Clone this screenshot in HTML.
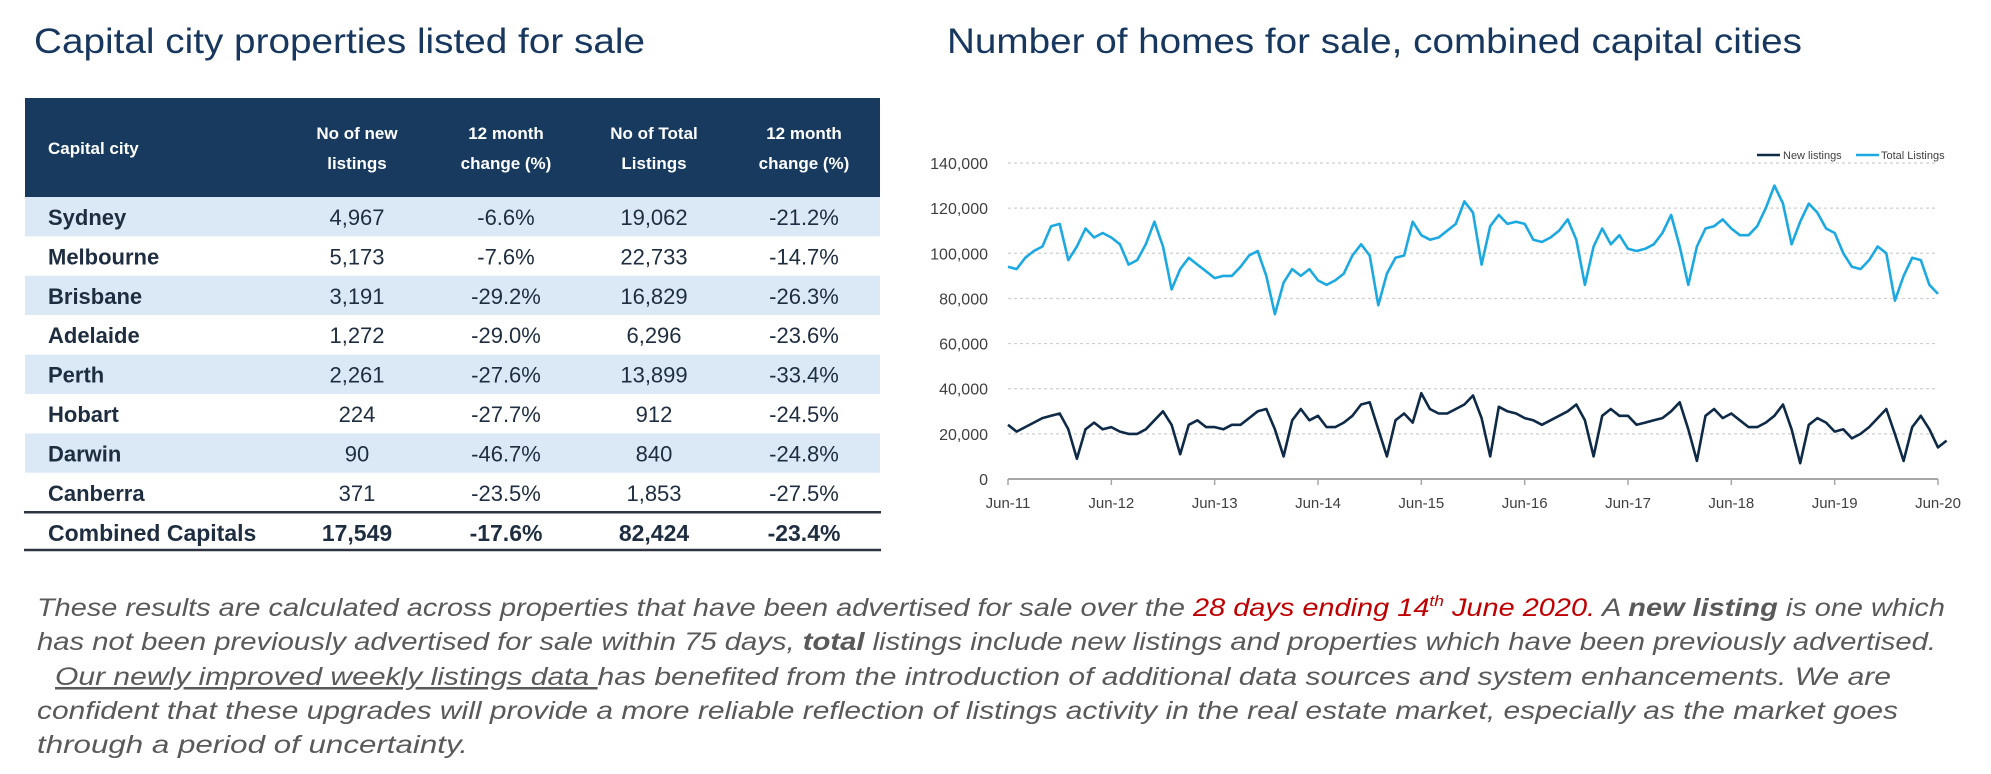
<!DOCTYPE html>
<html><head><meta charset="utf-8"><style>
html,body{margin:0;padding:0;background:#fff;}
svg{display:block;font-family:"Liberation Sans",sans-serif;}
</style></head><body>
<svg id="page" width="1991" height="774" viewBox="0 0 1991 774" xmlns="http://www.w3.org/2000/svg">
<text x="34" y="53" font-size="35" fill="#17375e" textLength="611" lengthAdjust="spacingAndGlyphs">Capital city properties listed for sale</text>
<text x="947" y="53" font-size="35" fill="#17375e" textLength="855" lengthAdjust="spacingAndGlyphs">Number of homes for sale, combined capital cities</text>
<g id="table"></g>
<g id="chart"></g>
<g font-style="italic" font-size="25" fill="#595959">
<text x="37" y="616" textLength="1908" lengthAdjust="spacingAndGlyphs">These results are calculated across properties that have been advertised for sale over the <tspan fill="#c00000">28 days ending 14<tspan font-size="15" dy="-10">th</tspan><tspan dy="10"> June 2020.</tspan></tspan>  A <tspan font-weight="bold">new listing</tspan> is one which</text>
<text x="37" y="650" textLength="1899" lengthAdjust="spacingAndGlyphs">has not been previously advertised for sale within 75 days, <tspan font-weight="bold">total</tspan> listings include new listings and properties which have been previously advertised.</text>
<text x="55" y="685" textLength="1836" lengthAdjust="spacingAndGlyphs"><tspan text-decoration="underline">Our newly improved weekly listings data </tspan>has benefited from the introduction of additional data sources and system enhancements. We are</text>
<text x="37" y="719" textLength="1861" lengthAdjust="spacingAndGlyphs">confident that these upgrades will provide a more reliable reflection of listings activity in the real estate market, especially as the market goes</text>
<text x="37" y="753" textLength="431" lengthAdjust="spacingAndGlyphs">through a period of uncertainty.</text>
</g>
</svg>
<script>
const cities=["Sydney","Melbourne","Brisbane","Adelaide","Perth","Hobart","Darwin","Canberra"];
const newListings=["4,967","5,173","3,191","1,272","2,261","224","90","371"];
const newChange=["-6.6%","-7.6%","-29.2%","-29.0%","-27.6%","-27.7%","-46.7%","-23.5%"];
const totalListings=["19,062","22,733","16,829","6,296","13,899","912","840","1,853"];
const totalChange=["-21.2%","-14.7%","-26.3%","-23.6%","-33.4%","-24.5%","-24.8%","-27.5%"];
const combinedRow=["Combined Capitals","17,549","-17.6%","82,424","-23.4%"];
const xLabels=["Jun-11","Jun-12","Jun-13","Jun-14","Jun-15","Jun-16","Jun-17","Jun-18","Jun-19","Jun-20"];
const yTicks=[0,20000,40000,60000,80000,100000,120000,140000];
const totalSeries=[94,93,98,101,103,112,113,97,103,111,107,109,107,104,95,97,104,114,103,84,93,98,95,92,89,90,90,94,99,101,90,73,87,93,90,93,88,86,88,91,99,104,99,77,91,98,99,114,108,106,107,110,113,123,118,95,112,117,113,114,113,106,105,107,110,115,106,86,103,111,104,108,102,101,102,104,109,117,103,86,103,111,112,115,111,108,108,112,120,130,122,104,114,122,118,111,109,100,94,93,97,103,100,79,90,98,97,86,82];
const newSeries=[24,21,23,25,27,28,29,22,9,22,25,22,23,21,20,20,22,26,30,24,11,24,26,23,23,22,24,24,27,30,31,22,10,26,31,26,28,23,23,25,28,33,34,22,10,26,29,25,38,31,29,29,31,33,37,27,10,32,30,29,27,26,24,26,28,30,33,26,10,28,31,28,28,24,25,26,27,30,34,22,8,28,31,27,29,26,23,23,25,28,33,22,7,24,27,25,21,22,18,20,23,27,31,20,8,23,28,22,14,17];
const NS="http://www.w3.org/2000/svg";
function mk(tag,attrs,parent,text){const e=document.createElementNS(NS,tag);for(const k in attrs)e.setAttribute(k,attrs[k]);if(text!==undefined)e.textContent=text;parent.appendChild(e);return e;}
const tb=document.getElementById('table');
const colX=[48,357,506,654,804];
const hdr=mk('rect',{x:25,y:98,width:855,height:99,fill:"#173a5e"},tb);


const heads=[["Capital city"],["No of new","listings"],["12 month","change (%)"],["No of Total","Listings"],["12 month","change (%)"]];
heads.forEach((h,i)=>{
  const t=mk('text',{x:colX[i],"text-anchor":i?"middle":"start",fill:"#fff","font-size":17,"font-weight":"bold"},tb);
  
  
  if(h.length===1){t.setAttribute('y',154);t.textContent=h[0];}
  else{mk('tspan',{x:colX[i],y:139},t,h[0]);mk('tspan',{x:colX[i],y:169},t,h[1]);}
});
const rowH=39.4;
cities.forEach((c,r)=>{
  const y0=197+r*rowH;
  const bg=mk('rect',{x:25,y:y0,width:855,height:rowH,fill:r%2===0?"#dbe9f7":"#fff"},tb);
  
  
  const vals=[c,newListings[r],newChange[r],totalListings[r],totalChange[r]];
  vals.forEach((v,i)=>{
    const t=mk('text',{x:colX[i],y:y0+28,"text-anchor":i?"middle":"start",fill:"#1e2d40","font-size":22,"font-weight":i?"normal":"bold"},tb,v);
    
    
  });
});
const yC=197+8*rowH;
mk('line',{x1:24,x2:881,y1:yC,y2:yC,stroke:"#2b3440","stroke-width":2.5},tb);
combinedRow.forEach((v,i)=>{
  const t=mk('text',{x:colX[i],y:yC+29,"text-anchor":i?"middle":"start",fill:"#1e2d40","font-size":23,"font-weight":"bold"},tb,v);
  
  
});
mk('line',{x1:24,x2:881,y1:550,y2:550,stroke:"#2b3440","stroke-width":2.5},tb);
const ch=document.getElementById('chart');
const x0=1008,x1=1938,y0p=479,y1p=163;
const nPts=totalSeries.length;
const xs=i=>x0+(x1-x0)*i/(nPts-1);
const ys=v=>y0p-(y0p-y1p)*v/140000;
yTicks.forEach(v=>{
  if(v>0){const g=mk('line',{x1:x0,x2:x1,y1:ys(v),y2:ys(v),stroke:"#cfcfcf","stroke-width":1.2,"stroke-dasharray":"3,3"},ch);
  
  }
  const t=mk('text',{x:988,y:ys(v)+6,"text-anchor":"end","font-size":16,fill:"#404040"},ch,v.toLocaleString('en-US'));
  
  
});
const ax=mk('line',{x1:x0,x2:x1,y1:y0p,y2:y0p,stroke:"#a6a6a6","stroke-width":2},ch);


xLabels.forEach((l,i)=>{
  const x=x0+(x1-x0)*i/(xLabels.length-1);
  mk('line',{x1:x,x2:x,y1:y0p,y2:y0p+6,stroke:"#a6a6a6","stroke-width":1.5},ch);
  const t=mk('text',{x:x,y:508,"text-anchor":"middle","font-size":15,fill:"#404040"},ch,l);
  
  
});
function line(arr,color,name){
  const d=arr.map((v,i)=>(i?'L':'M')+xs(i).toFixed(1)+','+ys(v*1000).toFixed(1)).join('');
  const p=mk('path',{d:d,fill:"none",stroke:color,"stroke-width":2.6,"stroke-linejoin":"round"},ch);
  
  
}
line(totalSeries,"#1ca9e1","total-listings-line");
line(newSeries,"#0e2a47","new-listings-line");
const lg=mk('g',{},ch);


mk('line',{x1:1757,x2:1780,y1:155,y2:155,stroke:"#0e2a47","stroke-width":2.5},lg);
mk('text',{x:1783,y:159,"font-size":11,fill:"#404040"},lg,"New listings");
mk('line',{x1:1856,x2:1879,y1:155,y2:155,stroke:"#1ca9e1","stroke-width":2.5},lg);
mk('text',{x:1881,y:159,"font-size":11,fill:"#404040"},lg,"Total Listings");
</script>
</body></html>
